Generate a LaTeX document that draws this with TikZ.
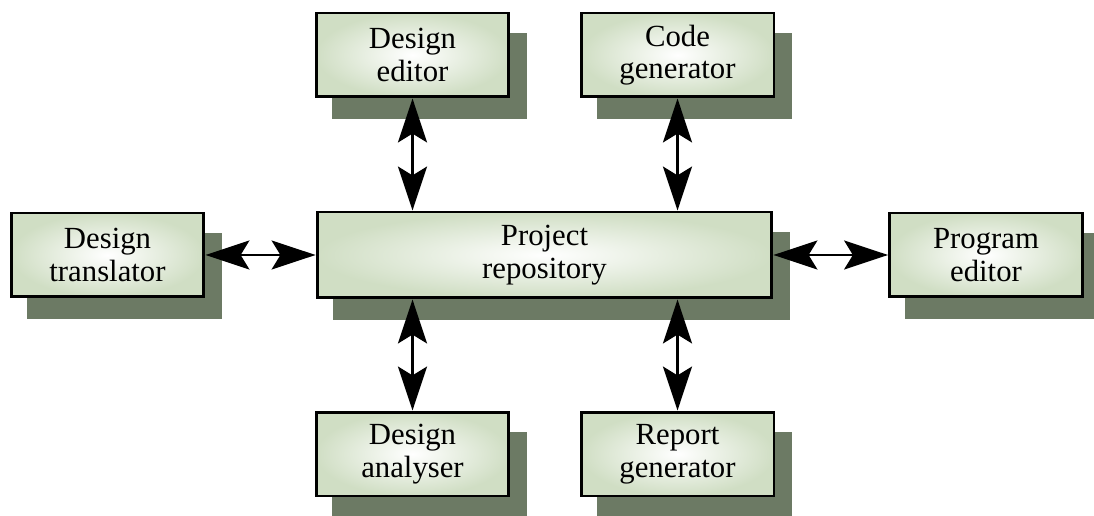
\documentclass[tikz,border=0pt]{standalone}
\usepackage{fontspec}
\setmainfont{Liberation Serif}
\usetikzlibrary{arrows.meta,backgrounds}
\definecolor{boxfill}{RGB}{208,222,196}
\definecolor{shadowc}{RGB}{108,122,100}
\begin{document}
\begin{tikzpicture}[x=0.02cm,y=-0.02cm,
  box/.style={draw=black, line width=1.7pt, align=center,
    font=\fontsize{17.5}{18.5}\selectfont, inner color=white, outer color=boxfill,
    minimum width=3.86cm, minimum height=1.68cm, inner sep=2pt},
  shadowbox/.style={fill=shadowc},
  tip/.tip={Stealth[length=25pt,width=16.5pt,inset=5pt]},
  link/.style={line width=1.4pt, tip-tip}]
\useasboundingbox (0,0) rectangle (1094,516);
\node[box] (de) at (412.5,55) {Design\\editor};
\node[box] (cg) at (677.5,55) {Code\\generator};
\node[box] (dt) at (107.5,255) {Design\\translator};
\node[box, minimum width=9.1cm, minimum height=1.72cm] (pr) at (544.5,255) {Project\\repository};
\node[box] (pe) at (986,255) {Program\\editor};
\node[box] (da) at (412.5,454) {Design\\analyser};
\node[box] (rg) at (677.5,454) {Report\\generator};
\begin{scope}[on background layer]
  \foreach \n in {de,cg,dt,pr,pe,da,rg}
    \fill[shadowbox] ([shift={(17,21)}]\n.south west) rectangle ([shift={(17,21)}]\n.north east);
\end{scope}
\draw[link] (de.south) -- (de.south |- pr.north);
\draw[link] (cg.south) -- (cg.south |- pr.north);
\draw[link] (da.north) -- (da.north |- pr.south);
\draw[link] (rg.north) -- (rg.north |- pr.south);
\draw[link] (dt.east) -- (pr.west);
\draw[link] (pr.east) -- (pe.west);
\end{tikzpicture}
\end{document}
